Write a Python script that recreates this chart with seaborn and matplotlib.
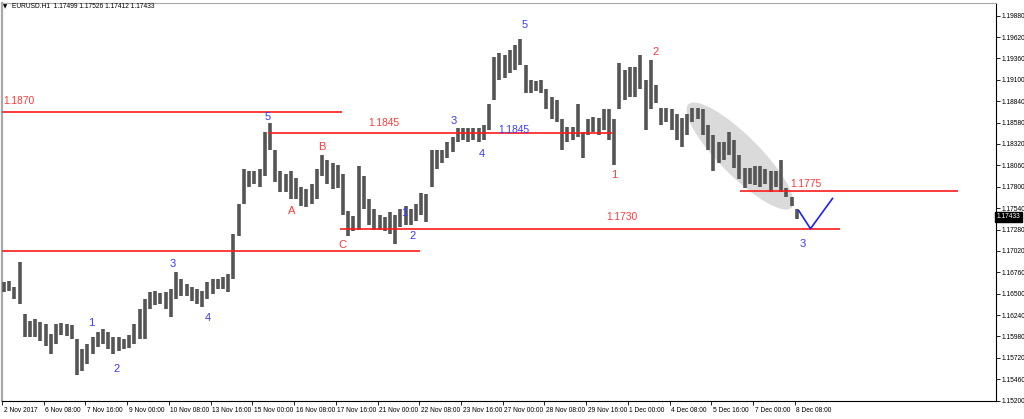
import numpy as np
import pandas as pd
import matplotlib
matplotlib.use("Agg")
import matplotlib.pyplot as plt
import seaborn as sns
from matplotlib.patches import Ellipse
from matplotlib.transforms import ScaledTranslation, blended_transform_factory

# ---------------- data (EURUSD, grouped 4 x H1 bars) ----------------
bar_high = [
    1.1664, 1.1665, 1.1658, 1.1688, 1.1625, 1.1617, 1.1619, 1.1616, 1.1613, 1.1601,
    1.1613, 1.1614, 1.1613, 1.1612, 1.1595, 1.1583, 1.1589, 1.1597, 1.1603, 1.1607,
    1.1603, 1.1597, 1.1597, 1.1595, 1.1600, 1.1613, 1.1631, 1.1643, 1.1652, 1.1653,
    1.1651, 1.1652, 1.1656, 1.1676, 1.1668, 1.1662, 1.1658, 1.1656, 1.1653, 1.1664,
    1.1668, 1.1668, 1.1670, 1.1674, 1.1722, 1.1759, 1.1801, 1.1799, 1.1799, 1.1801,
    1.1846, 1.1858, 1.1825, 1.1799, 1.1795, 1.1799, 1.1791, 1.1780, 1.1777, 1.1783,
    1.1801, 1.1819, 1.1813, 1.1809, 1.1807, 1.1795, 1.1750, 1.1744, 1.1805, 1.1793,
    1.1765, 1.1753, 1.1746, 1.1743, 1.1749, 1.1746, 1.1753, 1.1756, 1.1753, 1.1759,
    1.1773, 1.1771, 1.1825, 1.1825, 1.1825, 1.1834, 1.1840, 1.1852, 1.1852, 1.1852,
    1.1852, 1.1852, 1.1855, 1.1880, 1.1938, 1.1943, 1.1940, 1.1946, 1.1952, 1.1960,
    1.1928, 1.1910, 1.1908, 1.1910, 1.1899, 1.1889, 1.1886, 1.1862, 1.1853, 1.1853,
    1.1880, 1.1846, 1.1862, 1.1865, 1.1864, 1.1874, 1.1874, 1.1862, 1.1931, 1.1922,
    1.1926, 1.1925, 1.1940, 1.1910, 1.1934, 1.1904, 1.1876, 1.1876, 1.1874, 1.1868,
    1.1864, 1.1868, 1.1876, 1.1876, 1.1874, 1.1855, 1.1843, 1.1835, 1.1834, 1.1846,
    1.1837, 1.1819, 1.1803, 1.1803, 1.1805, 1.1805, 1.1801, 1.1799, 1.1799, 1.1813,
    1.1779, 1.1768, 1.1753,
]
bar_low = [
    1.1652, 1.1653, 1.1643, 1.1637, 1.1597, 1.1597, 1.1597, 1.1592, 1.1586, 1.1577,
    1.1589, 1.1600, 1.1599, 1.1595, 1.1551, 1.1556, 1.1565, 1.1577, 1.1585, 1.1589,
    1.1583, 1.1577, 1.1580, 1.1583, 1.1584, 1.1589, 1.1595, 1.1595, 1.1631, 1.1636,
    1.1637, 1.1631, 1.1622, 1.1643, 1.1647, 1.1647, 1.1641, 1.1637, 1.1634, 1.1643,
    1.1649, 1.1656, 1.1656, 1.1652, 1.1668, 1.1720, 1.1759, 1.1780, 1.1783, 1.1780,
    1.1793, 1.1825, 1.1786, 1.1774, 1.1774, 1.1765, 1.1765, 1.1756, 1.1755, 1.1759,
    1.1765, 1.1793, 1.1783, 1.1777, 1.1779, 1.1746, 1.1720, 1.1726, 1.1728, 1.1753,
    1.1734, 1.1728, 1.1728, 1.1726, 1.1722, 1.1710, 1.1731, 1.1733, 1.1734, 1.1738,
    1.1746, 1.1737, 1.1780, 1.1801, 1.1809, 1.1815, 1.1822, 1.1835, 1.1837, 1.1835,
    1.1837, 1.1834, 1.1837, 1.1849, 1.1886, 1.1910, 1.1912, 1.1918, 1.1922, 1.1928,
    1.1894, 1.1894, 1.1896, 1.1894, 1.1874, 1.1862, 1.1859, 1.1825, 1.1834, 1.1837,
    1.1841, 1.1815, 1.1843, 1.1846, 1.1843, 1.1849, 1.1837, 1.1807, 1.1874, 1.1886,
    1.1889, 1.1889, 1.1899, 1.1849, 1.1874, 1.1882, 1.1855, 1.1859, 1.1849, 1.1837,
    1.1828, 1.1843, 1.1859, 1.1862, 1.1843, 1.1825, 1.1799, 1.1809, 1.1813, 1.1819,
    1.1803, 1.1789, 1.1779, 1.1783, 1.1782, 1.1780, 1.1783, 1.1774, 1.1780, 1.1774,
    1.1767, 1.1756, 1.1741,
]
hours_per_bar = 4

x_tick_labels = ["2 Nov 2017", "6 Nov 08:00", "7 Nov 16:00", "9 Nov 00:00", "10 Nov 08:00",
                 "13 Nov 16:00", "15 Nov 00:00", "16 Nov 08:00", "17 Nov 16:00", "21 Nov 00:00",
                 "22 Nov 08:00", "23 Nov 16:00", "27 Nov 00:00", "28 Nov 08:00", "29 Nov 16:00",
                 "1 Dec 00:00", "4 Dec 08:00", "5 Dec 16:00", "7 Dec 00:00", "8 Dec 08:00"]
x_tick_step = 32  # H1 bars between labels

y_ticks = [1.19880, 1.19620, 1.19360, 1.19100, 1.18840, 1.18580, 1.18320, 1.18060,
           1.17800, 1.17540, 1.17280, 1.17020, 1.16760, 1.16500, 1.16240, 1.15980,
           1.15720, 1.15460, 1.15200]

last_quote = [1.17499, 1.17526, 1.17412, 1.17433]  # O H L C
symbol = "EURUSD.H1"

# horizontal levels
level_prices = [1.1871, 1.1845, 1.1729, 1.1702, 1.1775]

# projected path (H1 bar index, price)
proj_x = [611, 620, 637]
proj_y = [1.1751, 1.1729, 1.1766]

# ---------------- figure ----------------
sns.set_theme(style="white")
plt.rcParams['font.family'] = ['Liberation Sans', 'DejaVu Sans']

W, H = 1024, 419
fig = plt.figure(figsize=(W / 100, H / 100), dpi=100)
fig.patch.set_facecolor("white")
ax = fig.add_axes([1.5 / W, 18 / H, (996 - 1.5) / W, (401 - 3) / H])
ax.set_facecolor("white")

PX_PER_BAR = 1.304
ax.set_xlim((1.5 - 2) / PX_PER_BAR, (996 - 2) / PX_PER_BAR)
ax.set_ylim(1.15195, 1.20034)


def to_data(px, py):
    return ax.transData.inverted().transform((px, H - py))


def px2h(px):
    return (px - 2) / PX_PER_BAR


# grey highlight ellipse
cx, cy = to_data(740, 156)
ell = Ellipse((0, 0), width=1.46, height=0.40, angle=-45,
              transform=fig.dpi_scale_trans + ScaledTranslation(cx, cy, ax.transData),
              facecolor="#dadada", edgecolor="none", zorder=1)
ax.add_patch(ell)

# bars
df = pd.DataFrame({"high": bar_high, "low": bar_low})
df["x"] = np.arange(len(df)) * hours_per_bar + 1.5
ax.vlines(df["x"], df["low"], df["high"], colors="#555555", lw=2.6, zorder=3)

# red levels
red = "#ff1a1a"
seg = [(0, 342), (268, 612), (340, 840), (0, 420), (740, 958)]
for lvl, (a, b) in zip(level_prices, seg):
    ax.hlines(lvl, px2h(a), px2h(b), colors=red, lw=1.2, zorder=4)

# projection V
sns.lineplot(x=proj_x, y=proj_y, ax=ax, color="#1f1fff", lw=1.2, sort=False, zorder=5)

# labels
blue_c = "#3a3aff"
red_c = "#ff3a3a"
labels = [
    ("1", 91, 323, blue_c), ("2", 117, 369, blue_c), ("3", 173, 264, blue_c), ("4", 208, 318, blue_c),
    ("5", 268, 117, blue_c), ("1", 404, 213, blue_c), ("2", 413, 236, blue_c), ("3", 454, 121, blue_c),
    ("4", 482, 154, blue_c), ("5", 525, 25, blue_c), ("3", 803, 244, blue_c),
    ("A", 292, 211, red_c), ("B", 322, 147, red_c), ("C", 342, 245, red_c),
    ("1", 614, 175, "#e04a3a"), ("2", 656, 52, red_c),
]
for t, px, py, c in labels:
    x, y = to_data(px, py)
    ax.text(x, y, t, color=c, fontsize=8, ha="center", va="center", zorder=6)

price_labels = [("1.1845", 384, 123, red_c), ("1.1845", 514, 130, blue_c),
                ("1.1730", 622, 217, red_c), ("1.1775", 806, 184, red_c)]
for t, px, py, c in price_labels:
    x, y = to_data(px, py)
    ax.text(x, y, t, color=c, fontsize=7.4, ha="center", va="center", zorder=6)
x, y = to_data(3, 101)
ax.text(x, y, "1.1870", color=red_c, fontsize=7.4, ha="left", va="center", zorder=6)

# axes styling
for s in ["top", "left"]:
    ax.spines[s].set_color("#a8a8a8")
ax.spines["left"].set_linewidth(1.6)
ax.spines["top"].set_linewidth(0.8)
for s in ["right", "bottom"]:
    ax.spines[s].set_color("black")
    ax.spines[s].set_linewidth(0.8)

ax.yaxis.tick_right()
ax.set_yticks(y_ticks)
ax.set_yticklabels([f"{v:.5f}" for v in y_ticks])
ax.tick_params(axis="y", which="both", right=True, left=False, direction="out", length=3,
               width=0.6, pad=1, labelsize=4.8, colors="black")

ax.set_xticks(np.arange(len(x_tick_labels)) * x_tick_step)
ax.set_xticklabels(x_tick_labels)
ax.tick_params(axis="x", which="both", bottom=True, direction="out", length=3,
               width=0.6, pad=1.5, labelsize=4.8, colors="black")
off = ScaledTranslation(1.5 / 100, 0, fig.dpi_scale_trans)
for lab in ax.get_xticklabels():
    lab.set_ha("left")
    lab.set_transform(lab.get_transform() + off)
ax.grid(False)

# current price box
bt = blended_transform_factory(ax.transAxes, ax.transData)
ax.text(1.0 + 1 / 996, last_quote[3], f"{last_quote[3]:.5f}", transform=bt, color="white",
        fontsize=4.8, ha="left", va="center", clip_on=False, zorder=7,
        bbox=dict(boxstyle="square,pad=0.25", facecolor="black", edgecolor="black"))

# header
fig.text(3 / W, 1 - 7 / H, "\u25bc", fontsize=4, color="black", va="center", ha="left",
         family=["DejaVu Sans"])
fig.text(12 / W, 1 - 7 / H, symbol + "  " + " ".join(f"{v:.5f}" for v in last_quote),
         fontsize=4.8, color="black", va="center", ha="left")

fig.savefig("out.png", dpi=100, facecolor="white")
